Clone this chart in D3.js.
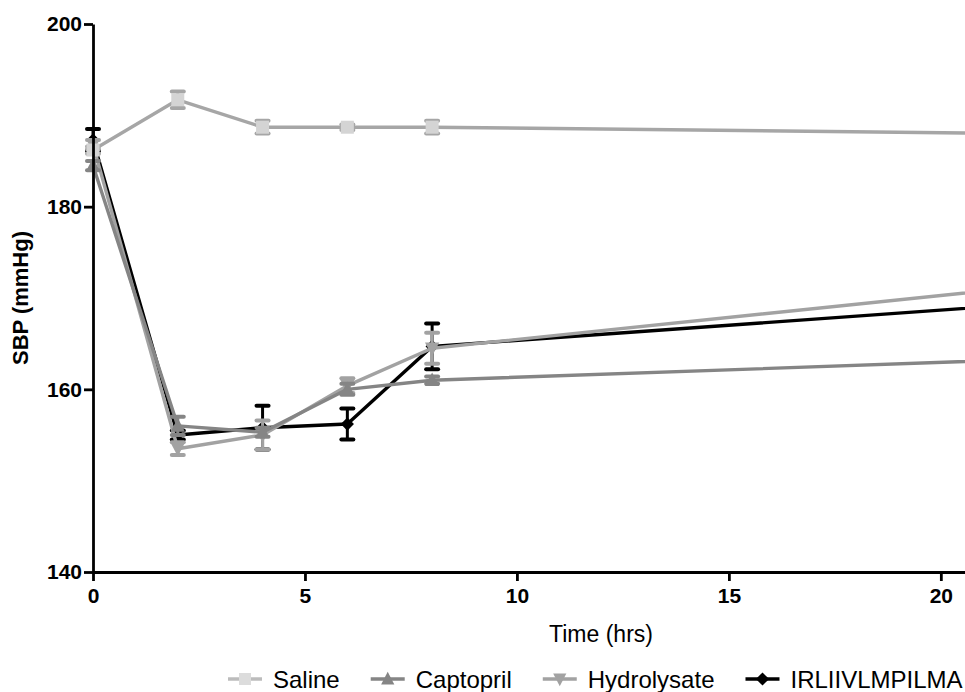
<!DOCTYPE html>
<html>
<head>
<meta charset="utf-8">
<script src="https://cdn.jsdelivr.net/npm/d3@7"></script>
<style>
  html, body { margin: 0; padding: 0; background: #fff; }
  svg { display: block; font-family: Arial, "Liberation Sans", Helvetica, sans-serif; }
</style>
</head>
<body>
<svg id="chart" width="965" height="692"></svg>
<script>
// Time points (hours)
const hours = [0, 2, 4, 6, 8, 24];

// Systolic blood pressure means (mmHg) per group
const salineMean   = [186.2, 191.7, 188.7, 188.7, 188.7, 187.9];
const captoMean    = [184.5, 156.0, 155.3, 160.0, 161.0, 163.6];
const hydroMean    = [186.8, 153.5, 155.0, 160.4, 164.5, 172.2];
const peptideMean  = [187.3, 155.0, 155.8, 156.2, 164.7, 170.0];

// Error (SEM) per group
const salineErr   = [0.4, 0.9, 0.7, 0.3, 0.7, 0.5];
const captoErr    = [0.5, 1.0, 0.5, 0.6, 0.4, 0.5];
const hydroErr    = [0.5, 0.7, 1.6, 0.8, 1.7, 0.8];
const peptideErr  = [1.2, 0.5, 2.4, 1.7, 2.5, 1.0];

const seriesNames = ["Saline", "Captopril", "Hydrolysate", "IRLIIVLMPILMA"];
const yTicks = [140, 160, 180, 200];
const xTicks = [0, 5, 10, 15, 20];

const series = [
  { name: seriesNames[0], mean: salineMean,  err: salineErr,  line: "#a6a6a6", fill: "#d4d4d4", sym: "square" },
  { name: seriesNames[1], mean: captoMean,   err: captoErr,   line: "#858585", fill: "#858585", sym: "triUp" },
  { name: seriesNames[2], mean: hydroMean,   err: hydroErr,   line: "#a2a2a2", fill: "#a2a2a2", sym: "triDown" },
  { name: seriesNames[3], mean: peptideMean, err: peptideErr, line: "#000000", fill: "#000000", sym: "diamond" }
];

const svg = d3.select("#chart");
const plotLeft = 93, plotRight = 965, plotTop = 24, plotBottom = 572;

const x = d3.scaleLinear().domain([0, 20.57]).range([plotLeft, plotRight]);
const y = d3.scaleLinear().domain([140, 200]).range([plotBottom, plotTop]);

// Marker shapes
function markerPath(sym, s) {
  if (sym === "square") return `M${-s/2},${-s/2}h${s}v${s}h${-s}Z`;
  if (sym === "triUp") return `M0,${-s*0.6}L${s*0.55},${s*0.45}L${-s*0.55},${s*0.45}Z`;
  if (sym === "triDown") return `M0,${s*0.6}L${s*0.55},${-s*0.45}L${-s*0.55},${-s*0.45}Z`;
  return `M0,${-s*0.55}L${s*0.55},0L0,${s*0.55}L${-s*0.55},0Z`;
}
const markerSize = { square: 13, triUp: 13, triDown: 13, diamond: 12 };

const plot = svg.append("g");
const line = d3.line().x((d, i) => x(hours[i])).y(d => y(d));

// Draw the last group first so Saline sits on top
series.slice().reverse().forEach(s => {
  const g = plot.append("g");
  g.append("path")
    .attr("d", line(s.mean))
    .attr("fill", "none")
    .attr("stroke", s.line)
    .attr("stroke-width", 3.4)
    .attr("stroke-linejoin", "round");

  const eb = g.selectAll("g.eb").data(s.mean).enter().append("g");
  eb.append("line")
    .attr("x1", (d, i) => x(hours[i])).attr("x2", (d, i) => x(hours[i]))
    .attr("y1", (d, i) => y(d + s.err[i])).attr("y2", (d, i) => y(d - s.err[i]))
    .attr("stroke", s.line).attr("stroke-width", 3);
  [1, -1].forEach(sign => {
    eb.append("line")
      .attr("x1", (d, i) => x(hours[i]) - 6).attr("x2", (d, i) => x(hours[i]) + 6)
      .attr("y1", (d, i) => y(d + sign * s.err[i])).attr("y2", (d, i) => y(d + sign * s.err[i]))
      .attr("stroke", s.line).attr("stroke-width", 4).attr("stroke-linecap", "round");
  });

  g.selectAll("path.mk").data(s.mean).enter().append("path")
    .attr("class", "mk")
    .attr("transform", (d, i) => `translate(${x(hours[i])},${y(d)})`)
    .attr("d", markerPath(s.sym, markerSize[s.sym]))
    .attr("fill", s.fill);
});

// Axes
const yAxis = svg.append("g")
  .attr("transform", `translate(${plotLeft},0)`)
  .call(d3.axisLeft(y).tickValues(yTicks).tickSize(9).tickSizeOuter(0).tickPadding(2));
const xAxis = svg.append("g")
  .attr("transform", `translate(0,${plotBottom})`)
  .call(d3.axisBottom(x).tickValues(xTicks).tickSize(9).tickSizeOuter(0).tickPadding(7));

[yAxis, xAxis].forEach(a => {
  a.select(".domain").attr("stroke", "#000").attr("stroke-width", 2.8);
  a.selectAll(".tick line").attr("stroke", "#000").attr("stroke-width", 2.8);
  a.selectAll(".tick text")
    .attr("fill", "#000")
    .style("font-size", "21px")
    .style("font-weight", "bold")
    .style("font-family", "Arial, 'Liberation Sans', sans-serif");
});

// Axis titles
svg.append("text")
  .attr("transform", `translate(28,${(plotTop + plotBottom) / 2}) rotate(-90)`)
  .attr("text-anchor", "middle")
  .style("font-size", "22px").style("font-weight", "bold")
  .text("SBP (mmHg)");
svg.append("text")
  .attr("x", 601).attr("y", 642)
  .attr("text-anchor", "middle")
  .style("font-size", "23px")
  .text("Time (hrs)");

// Legend: swatch, label, then the next entry
const legendY = 679;
let cursor = 228;
series.forEach((s, i) => {
  const g = svg.append("g").attr("transform", `translate(${cursor},${legendY})`);
  g.append("line").attr("x1", 0).attr("x2", 34).attr("y1", 0).attr("y2", 0)
    .attr("stroke", s.sym === "square" ? "#bcbcbc" : s.line).attr("stroke-width", 3.4);
  g.append("path").attr("transform", "translate(17,0)")
    .attr("d", markerPath(s.sym, 12))
    .attr("fill", s.sym === "square" ? "#dcdcdc" : s.fill);
  const t = g.append("text").attr("x", 45).attr("y", 8.5)
    .style("font-size", "24px")
    .text(s.name);
  cursor += 45 + t.node().getComputedTextLength() + 31;
});
</script>
</body>
</html>
